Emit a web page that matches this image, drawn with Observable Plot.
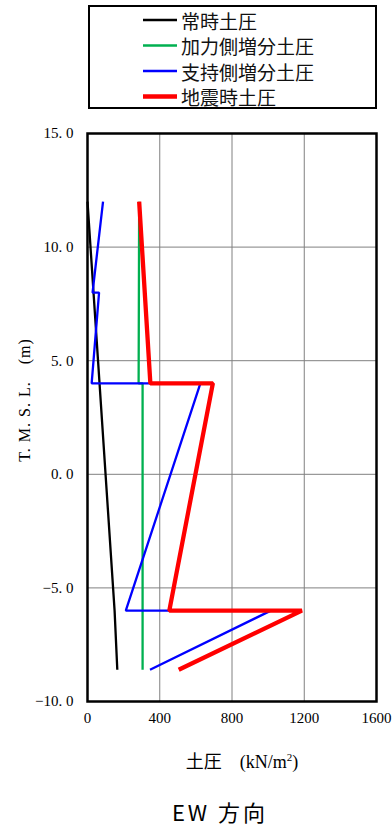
<!DOCTYPE html>
<html>
<head>
<meta charset="utf-8">
<script src="https://cdn.jsdelivr.net/npm/d3@7"></script>
<script src="https://cdn.jsdelivr.net/npm/@observablehq/plot@0.6"></script>
<style>
  html, body { margin: 0; padding: 0; background: #fff; }
  #chart { width: 392px; height: 833px; }
</style>
</head>
<body>
<div id="chart"></div>
<script>
// ---- data ----
const seriesNames = ["常時土圧", "加力側増分土圧", "支持側増分土圧", "地震時土圧"];
const seriesColors = ["#000000", "#00b050", "#0000ff", "#ff0000"];
const seriesWidths = [2.3, 2.3, 2.3, 4.3];

// 常時土圧
const joujiDepth = [12, -6, -8.6];
const joujiPressure = [0, 150, 165];
// 加力側増分土圧
const kakaDepth = [12, 4, 4, -8.6];
const kakaPressure = [286, 283, 305, 305];
// 支持側増分土圧
const shijiDepth = [12, 8, 8, 4, 4, -6, -6, -8.6];
const shijiPressure = [86, 28, 64, 23, 625, 212, 1015, 346];
// 地震時土圧
const jishinDepth = [12, 4, 4, -6, -6, -8.6];
const jishinPressure = [286, 348, 694, 453, 1187, 505];

const xTicks = [0, 400, 800, 1200, 1600];
const yTicks = [-10, -5, 0, 5, 10, 15];

const xLabel = "土圧";
const xUnit = "(kN/m";
const yLabel = "T. M. S. L.\u3000(m)";
const caption = "EW 方向";

// ---- build table ----
const depthArrays = [joujiDepth, kakaDepth, shijiDepth, jishinDepth];
const pressureArrays = [joujiPressure, kakaPressure, shijiPressure, jishinPressure];
const rows = [];
seriesNames.forEach((name, i) => {
  depthArrays[i].forEach((d, j) => rows.push({series: name, depth: d, p: pressureArrays[i][j]}));
});

const fmtY = d => (d < 0 ? "\u2212" : "") + Math.abs(d).toFixed(1).replace(".", ". ");

const W = 392, H = 833;
const mTop = 133, mBottom = 132, mLeft = 87, mRight = 16;

const plot = Plot.plot({
  width: W,
  height: H,
  marginTop: mTop,
  marginBottom: mBottom,
  marginLeft: mLeft,
  marginRight: mRight,
  style: {fontFamily: "'Liberation Serif', serif", fontSize: "15px", color: "#000", background: "#fff"},
  x: {domain: [0, 1600]},
  y: {domain: [-10, 15]},
  marks: [
    Plot.gridX(xTicks.slice(1, -1), {stroke: "#808080", strokeOpacity: 1, strokeWidth: 1}),
    Plot.gridY(yTicks.slice(1, -1), {stroke: "#808080", strokeOpacity: 1, strokeWidth: 1}),
    Plot.axisX(xTicks, {tickSize: 0, tickPadding: 11, tickFormat: d => String(d), label: null, fontSize: 15}),
    Plot.axisY(yTicks, {tickSize: 0, tickPadding: 14, tickFormat: fmtY, label: null, fontSize: 15}),
    ...seriesNames.map((name, i) =>
      Plot.line(rows.filter(r => r.series === name), {
        x: "p", y: "depth",
        stroke: seriesColors[i], strokeWidth: seriesWidths[i],
        strokeLinejoin: "miter", strokeLinecap: "butt"
      })
    ),
    Plot.frame({stroke: "#000", strokeWidth: 2.5})
  ]
});

document.getElementById("chart").appendChild(plot);

const svg = d3.select(plot);

// y-axis label
svg.append("text")
  .attr("transform", "translate(24,400) rotate(-90)")
  .attr("text-anchor", "middle")
  .attr("dominant-baseline", "central")
  .style("font-family", "'Liberation Serif', serif")
  .style("font-size", "16px")
  .style("letter-spacing", "1px")
  .text(yLabel);

// x-axis label
const xl = svg.append("text")
  .attr("x", 242).attr("y", 768)
  .attr("text-anchor", "middle")
  .style("font-size", "18px");
xl.append("tspan").style("font-family", "'Noto Sans CJK JP', sans-serif").text(xLabel + "\u3000");
xl.append("tspan").style("font-family", "'Liberation Serif', serif").text(xUnit);
xl.append("tspan").style("font-family", "'Liberation Serif', serif").style("font-size", "11px").attr("dy", -7).text("2");
xl.append("tspan").style("font-family", "'Liberation Serif', serif").attr("dy", 7).text(")");

// caption
svg.append("text")
  .attr("x", 220).attr("y", 821)
  .attr("text-anchor", "middle")
  .style("font-family", "'Noto Sans CJK JP', sans-serif")
  .style("font-size", "22px")
  .style("letter-spacing", "3px")
  .text(caption);

// legend
const lg = svg.append("g");
lg.append("rect")
  .attr("x", 89).attr("y", 6).attr("width", 287).attr("height", 102)
  .attr("fill", "#fff").attr("stroke", "#000").attr("stroke-width", 2);
seriesNames.forEach((name, i) => {
  const yy = 20 + i * 25.5;
  lg.append("line")
    .attr("x1", 143).attr("x2", 177).attr("y1", yy).attr("y2", yy)
    .attr("stroke", seriesColors[i]).attr("stroke-width", seriesWidths[i]);
  lg.append("text")
    .attr("x", 181).attr("y", yy)
    .attr("text-anchor", "start")
    .attr("dominant-baseline", "central")
    .style("font-family", "'Noto Sans CJK JP', sans-serif")
    .style("font-size", "19px")
    .attr("fill", "#111")
    .text(name);
});
</script>
</body>
</html>
